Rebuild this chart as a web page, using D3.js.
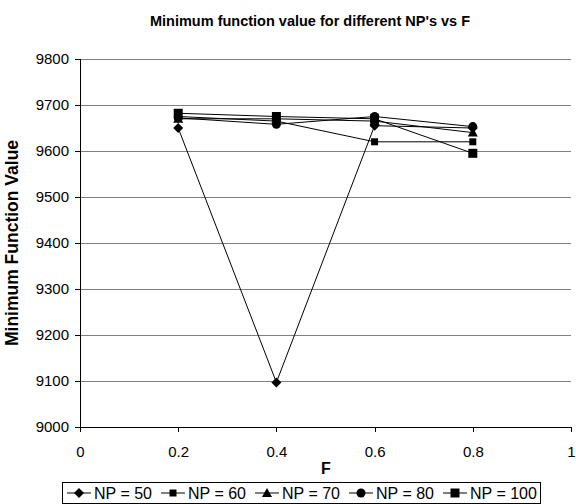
<!DOCTYPE html>
<html><head><meta charset="utf-8">
<script src="https://cdn.jsdelivr.net/npm/d3@7"></script>
<style>body{margin:0;background:#fff}svg{display:block;font-family:Arial,"Liberation Sans",sans-serif}</style>
</head><body><svg id="c" width="576" height="504"></svg>
<script>
const fValues = [0.2, 0.4, 0.6, 0.8];
const np50  = [9650, 9097, 9655, 9650];
const np60  = [9675, 9665, 9620, 9620];
const np70  = [9670, 9670, 9665, 9640];
const np80  = [9672, 9658, 9675, 9653];
const np100 = [9682, 9675, 9670, 9595];
const seriesNames = ["NP = 50", "NP = 60", "NP = 70", "NP = 80", "NP = 100"];
const seriesMarkers = ["diamond", "squareS", "triangle", "circle", "square"];
const xTicks = [0, 0.2, 0.4, 0.6, 0.8, 1];
const yTicks = [9000, 9100, 9200, 9300, 9400, 9500, 9600, 9700, 9800];

const series = [np50, np60, np70, np80, np100].map((v, i) => ({name: seriesNames[i], marker: seriesMarkers[i], values: v}));

const svg = d3.select("#c");
const L = 80, R = 571, T = 59, B = 427;
const x = d3.scaleLinear().domain([0, 1]).range([L, R]);
const y = d3.scaleLinear().domain([9000, 9800]).range([B, T]);

// gridlines
svg.append("g").selectAll("line").data(yTicks).join("line")
  .attr("x1", L).attr("x2", R).attr("y1", d => y(d)).attr("y2", d => y(d))
  .attr("stroke", "#808080").attr("stroke-width", 1).attr("shape-rendering", "crispEdges");

// axes
const yAxis = d3.axisLeft(y).tickValues(yTicks).tickSize(5).tickPadding(6).tickFormat(d3.format("d"));
const gy = svg.append("g").attr("transform", `translate(${L},0)`).call(yAxis);
const xAxis = d3.axisBottom(x).tickValues(xTicks).tickSize(5).tickPadding(14).tickFormat(d => d === 0 || d === 1 ? String(d) : d3.format(".1f")(d));
const gx = svg.append("g").attr("transform", `translate(0,${B})`).call(xAxis);
[gx, gy].forEach(g => {
  g.select(".domain").attr("stroke", "#000").attr("shape-rendering", "crispEdges");
  g.selectAll(".tick line").attr("stroke", "#000").attr("shape-rendering", "crispEdges");
  g.selectAll(".tick text").attr("fill", "#000").style("font-size", "15px").style("font-family", "Arial, 'Liberation Sans', sans-serif");
});
gx.select(".domain").attr("d", `M${L},0.5H${R}`);
gy.select(".domain").attr("d", `M0.5,${T}V${B + 5}`);

function markerPath(type, cx, cy) {
  const p = d3.path();
  if (type === "diamond") { const s = 5; p.moveTo(cx, cy - s); p.lineTo(cx + s, cy); p.lineTo(cx, cy + s); p.lineTo(cx - s, cy); p.closePath(); }
  else if (type === "squareS") { const s = 3.5; p.rect(cx - s, cy - s, 2 * s, 2 * s); }
  else if (type === "square") { const s = 4.5; p.rect(cx - s, cy - s, 2 * s, 2 * s); }
  else if (type === "triangle") { const s = 5; p.moveTo(cx, cy - s); p.lineTo(cx + s, cy + s * 0.8); p.lineTo(cx - s, cy + s * 0.8); p.closePath(); }
  else if (type === "circle") { p.arc(cx, cy, 4.5, 0, 2 * Math.PI); }
  return p.toString();
}

const line = d3.line().x((d, i) => x(fValues[i])).y(d => y(d));
const sg = svg.append("g").selectAll("g").data(series).join("g");
sg.append("path").attr("d", d => line(d.values)).attr("fill", "none").attr("stroke", "#000").attr("stroke-width", 1);
sg.each(function (s) {
  d3.select(this).selectAll("path.m").data(s.values).join("path").attr("class", "m")
    .attr("d", (v, i) => markerPath(s.marker, x(fValues[i]), y(v))).attr("fill", "#000");
});

// titles
svg.append("text").attr("x", 310).attr("y", 26).attr("text-anchor", "middle")
  .style("font-size", "14.5px").style("font-weight", "bold").text("Minimum function value for different NP's vs F");
svg.append("text").attr("x", 326).attr("y", 474).attr("text-anchor", "middle")
  .style("font-size", "16px").style("font-weight", "bold").text("F");
svg.append("text").attr("transform", `translate(18,${(T + B) / 2}) rotate(-90)`).attr("text-anchor", "middle")
  .style("font-size", "17.5px").style("font-weight", "bold").text("Minimum Function Value");

// legend
const lg = svg.append("g");
lg.append("rect").attr("x", 62.5).attr("y", 482.5).attr("width", 478).attr("height", 21).attr("fill", "#fff").attr("stroke", "#000");
const lx = [67, 161, 255, 349, 443];
series.forEach((s, i) => {
  const g = lg.append("g").attr("transform", `translate(${lx[i]},493)`);
  g.append("line").attr("x1", 0).attr("x2", 24).attr("stroke", "#000");
  g.append("path").attr("d", markerPath(s.marker, 12, 0)).attr("fill", "#000");
  g.append("text").attr("x", 27).attr("y", 5.5).style("font-size", "16px").text(s.name);
});
</script></body></html>
